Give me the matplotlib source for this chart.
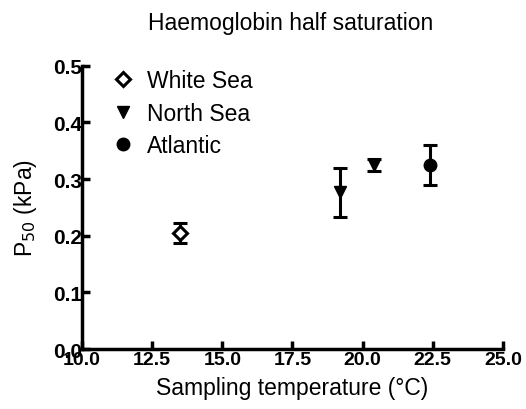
import matplotlib
matplotlib.use("Agg")
import matplotlib.pyplot as plt

plt.rcParams['font.family'] = ['Liberation Sans', 'DejaVu Sans']

# sampling temperature (deg C), P50 (kPa) and error
white_t = [13.5]
white_p = [0.205]
white_e = [0.017]

north_t = [19.2, 20.4]
north_p = [0.277, 0.325]
north_e = [0.043, 0.011]

atl_t = [22.4]
atl_p = [0.325]
atl_e = [0.036]

xticks = [10.0, 12.5, 15.0, 17.5, 20.0, 22.5, 25.0]
yticks = [0.0, 0.1, 0.2, 0.3, 0.4, 0.5]

fig = plt.figure(figsize=(5.26, 4.10), dpi=100)
ax = fig.add_axes([0.156, 0.146, 0.800, 0.691])

common = dict(color='black', ecolor='black', elinewidth=2.2, capsize=5,
              capthick=2.2, linestyle='none')
ax.errorbar(white_t, white_p, yerr=white_e, marker='D', markersize=7,
            markerfacecolor='white', markeredgewidth=2.2, label='White Sea', **common)
ax.errorbar(north_t, north_p, yerr=north_e, marker='v', markersize=9,
            label='North Sea', **common)
ax.errorbar(atl_t, atl_p, yerr=atl_e, marker='o', markersize=9,
            label='Atlantic', **common)

ax.set_xlim(10, 25)
ax.set_ylim(0, 0.5)
ax.set_xticks(xticks)
ax.set_yticks(yticks)
ax.set_xticklabels([f'{v:.1f}' for v in xticks], fontweight='bold', fontsize=14)
ax.set_yticklabels([f'{v:.1f}' for v in yticks], fontweight='bold', fontsize=15)
ax.tick_params(direction='in', width=2.5, length=6, pad=1)
ax.tick_params(axis='y', pad=0)

for s in ['top', 'right']:
    ax.spines[s].set_visible(False)
for s in ['left', 'bottom']:
    ax.spines[s].set_linewidth(2.5)

ax.set_xlabel('Sampling temperature (°C)', fontsize=16.5, labelpad=6)
ax.set_ylabel('P$_{50}$ (kPa)', fontsize=16.5, labelpad=10)
fig.suptitle('Haemoglobin half saturation', fontsize=16.5, x=0.552, y=0.97)

handles, labels = ax.get_legend_handles_labels()
handles = [h[0] for h in handles]
ax.legend(handles, labels, loc='upper left', frameon=False, fontsize=16.5,
          bbox_to_anchor=(0.02, 1.06), handletextpad=0.55, labelspacing=0.4,
          handlelength=1.0)

fig.savefig('out.png', dpi=100)
